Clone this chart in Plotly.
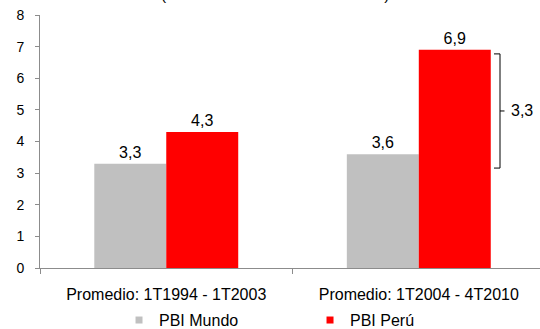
import plotly.graph_objects as go

# Average GDP growth by period
periodos = ["Promedio: 1T1994 - 1T2003", "Promedio: 1T2004 - 4T2010"]
pbi_mundo = [3.3, 3.6]
pbi_peru = [4.3, 6.9]
series_nombres = ["PBI Mundo", "PBI Perú"]
colores = ["#C0C0C0", "#FF0000"]
y_ticks = [0, 1, 2, 3, 4, 5, 6, 7, 8]

FONT = "Liberation Sans, Arial, sans-serif"
TXT = "#000000"
AXIS = "#8C8C8C"

fig = go.Figure()
for nombre, valores, color in zip(series_nombres, [pbi_mundo, pbi_peru], colores):
    fig.add_trace(go.Bar(
        x=periodos, y=valores, name=nombre, marker_color=color,
        marker_line_width=0,
        texttemplate="%{y:.1f}", textposition="outside",
        textfont=dict(size=16, color=TXT, family=FONT),
        cliponaxis=False, showlegend=False,
    ))
    # small square legend keys
    fig.add_trace(go.Scatter(
        x=[None], y=[None], mode="markers", name=nombre,
        marker=dict(symbol="square", size=7, color=color),
    ))

# bracket showing the gap between Peru and world growth in the second period
brecha = pbi_peru[1] - pbi_mundo[1]
y_top, y_bot = 6.77, 3.16
y_mid = (y_top + y_bot) / 2
xb, xa, xt = 0.920, 0.908, 0.929
fig.add_shape(
    type="path", xref="paper", yref="y",
    path=f"M {xa},{y_top} L {xb},{y_top} L {xb},{y_bot} L {xa},{y_bot}",
    line=dict(color=TXT, width=1),
)
fig.add_shape(
    type="line", xref="paper", yref="y",
    x0=xb, x1=xt, y0=y_mid, y1=y_mid,
    line=dict(color=TXT, width=1),
)
fig.add_annotation(
    xref="paper", yref="y", x=0.938, y=y_mid, xanchor="left", yanchor="middle",
    text=f"{brecha:.1f}".replace(".", ","), showarrow=False,
    font=dict(size=16, color=TXT, family=FONT),
)

# chart subtitle (mostly above the visible area)
fig.add_annotation(
    xref="paper", yref="paper", x=0.47, y=1.0395,
    xanchor="center", yanchor="bottom",
    text="(Tasa de crecimiento anual en %)", showarrow=False,
    font=dict(size=15.4, color=TXT, family=FONT),
)

fig.update_layout(
    width=540, height=329,
    margin=dict(l=40, r=0, t=15, b=61),
    paper_bgcolor="#FFFFFF", plot_bgcolor="#FFFFFF",
    separators=",.",
    barmode="group", bargap=0.43, bargroupgap=0,
    font=dict(family=FONT, size=16, color=TXT),
    showlegend=True,
    legend=dict(
        orientation="h", xref="container", yref="container",
        x=0.2204, xanchor="left", y=0.027, yanchor="middle",
        entrywidth=146, entrywidthmode="pixels", itemwidth=30,
        font=dict(size=16, color=TXT, family=FONT),
        bgcolor="rgba(0,0,0,0)",
    ),
    xaxis=dict(
        type="category", range=[-0.5, 1.48],
        showline=True, linecolor=AXIS, linewidth=1,
        ticks="outside", tickson="boundaries", ticklen=5, tickcolor=AXIS,
        showgrid=False, tickfont=dict(size=16, color=TXT),
        ticklabelstandoff=12,
    ),
    yaxis=dict(
        range=[0, 8], tickvals=y_ticks, showline=True, linecolor=AXIS,
        linewidth=1, ticks="outside", ticklen=4, tickcolor=AXIS,
        showgrid=False, zeroline=False, tickfont=dict(size=14, color=TXT),
        ticklabelstandoff=8,
    ),
)

fig.write_html("out.html")
